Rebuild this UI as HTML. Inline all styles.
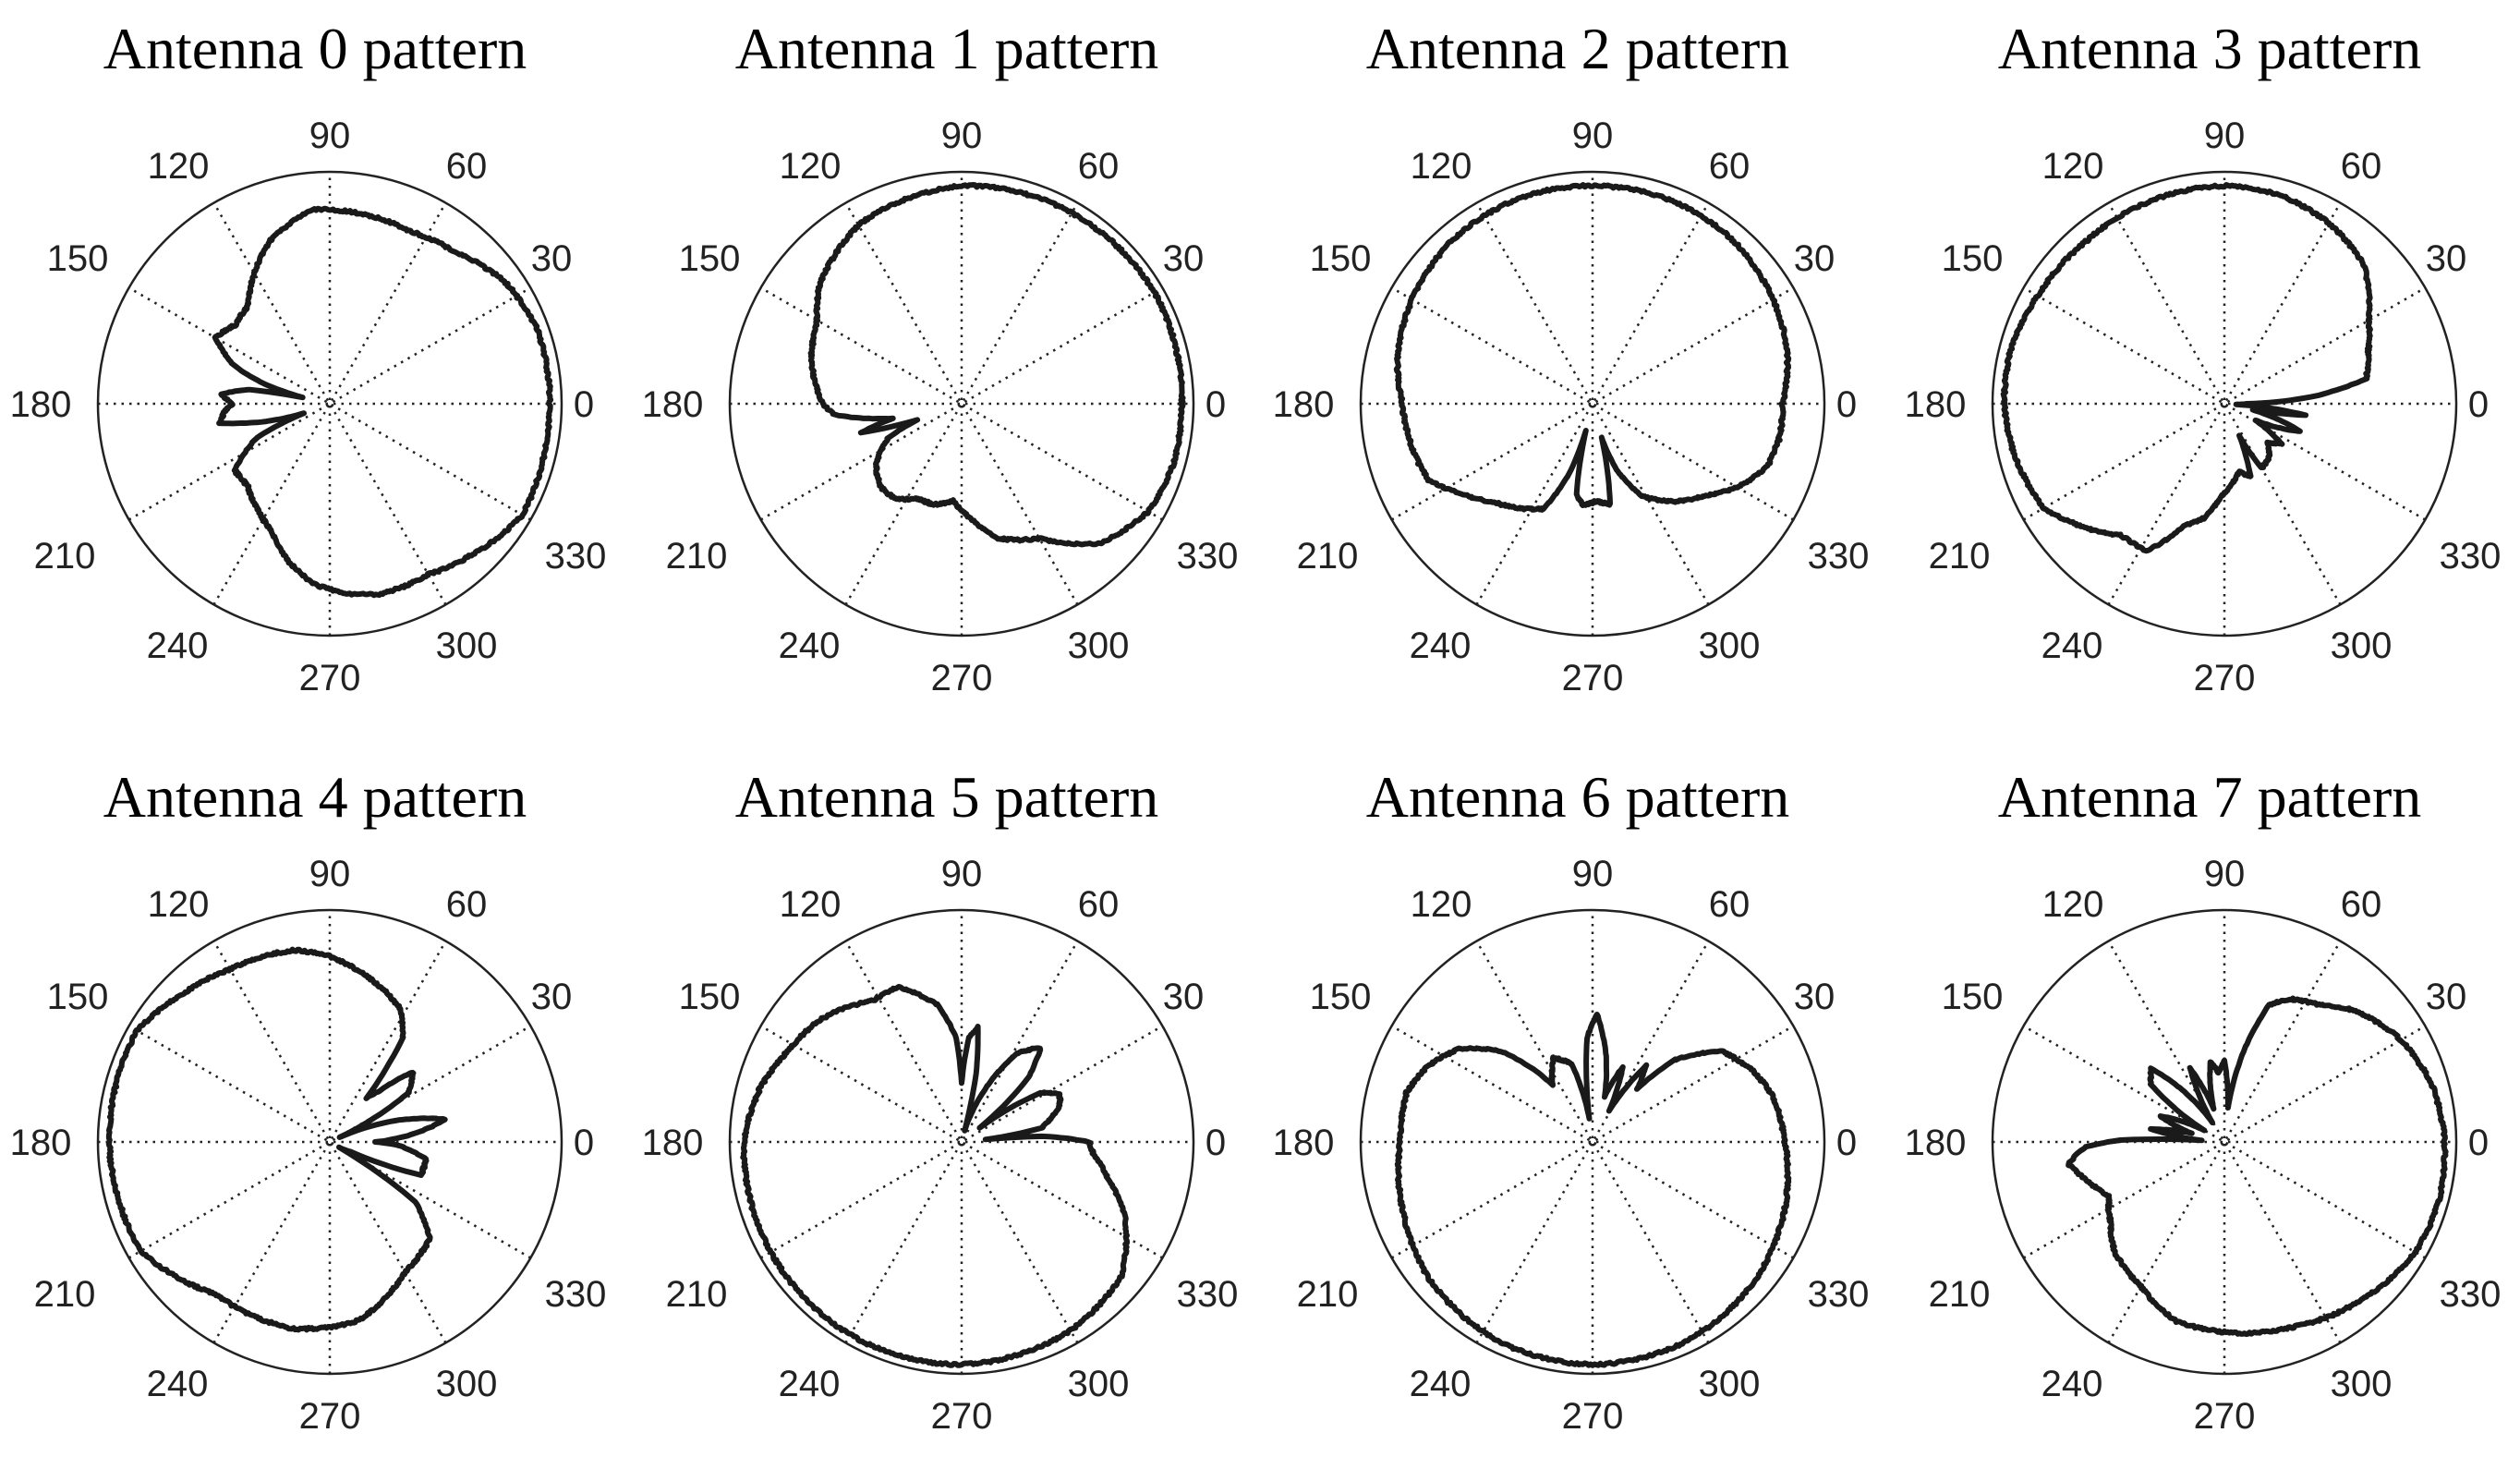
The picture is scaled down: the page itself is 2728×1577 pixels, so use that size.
<!DOCTYPE html>
<html><head><meta charset="utf-8"><style>
html,body{margin:0;padding:0;background:#fff;}
svg{display:block}
.t{font-family:"Liberation Serif",serif;font-size:64px;fill:#000}
.l{font-family:"Liberation Sans",sans-serif;font-size:40px;fill:#222}
</style></head><body>
<svg id="s" width="2728" height="1577" viewBox="0 0 2728 1577" xmlns="http://www.w3.org/2000/svg">
<text class="t" x="341" y="74" text-anchor="middle">Antenna 0 pattern</text>
<text class="t" x="1025" y="74" text-anchor="middle">Antenna 1 pattern</text>
<text class="t" x="1708" y="74" text-anchor="middle">Antenna 2 pattern</text>
<text class="t" x="2392" y="74" text-anchor="middle">Antenna 3 pattern</text>
<text class="t" x="341" y="884" text-anchor="middle">Antenna 4 pattern</text>
<text class="t" x="1025" y="884" text-anchor="middle">Antenna 5 pattern</text>
<text class="t" x="1708" y="884" text-anchor="middle">Antenna 6 pattern</text>
<text class="t" x="2392" y="884" text-anchor="middle">Antenna 7 pattern</text>
</svg>
<script>
(function(){
var s=document.getElementById('s'),NS='http://www.w3.org/2000/svg';
var R=251;
var cx=[357,1041,1724,2408],cy=[437,1236];
var labs=[[0,275,0],[30,240,-158],[60,148,-258],[90,0,-291],[120,-164,-258],[150,-273,-158],[180,-313,0],[210,-287,164],[240,-165,261],[270,0,296],[300,148,261],[330,266,164]];
var P=[
[[0,.95],[20,.95],[35,.92],[50,.85],[65,.82],[80,.83],[95,.84],[110,.75],[122,.63],[130,.55],[140,.53],[150,.57],[158,.45],[163,.3],[167,.12],[170,.35],[175,.47],[180,.42],[185,.46],[190,.48],[195,.3],[200,.12],[205,.35],[215,.5],[225,.5],[235,.55],[245,.6],[255,.7],[265,.78],[275,.82],[285,.85],[300,.85],[315,.9],[330,.96],[345,.95],[360,.95]],
[[0,.95],[30,.96],[60,.95],[90,.94],[120,.89],[140,.8],[150,.72],[165,.67],[180,.6],[185,.55],[192,.3],[196,.45],[200,.2],[205,.35],[215,.45],[225,.5],[235,.5],[245,.45],[255,.45],[265,.42],[275,.5],[285,.6],[300,.67],[315,.85],[330,.93],[345,.95],[360,.95]],
[[0,.82],[15,.87],[30,.9],[50,.93],[70,.94],[90,.94],[110,.94],[130,.93],[150,.9],[165,.87],[180,.82],[195,.8],[205,.78],[215,.68],[225,.6],[235,.55],[245,.5],[252,.3],[256,.12],[260,.4],[265,.44],[272,.42],[280,.44],[285,.15],[290,.3],[298,.45],[310,.55],[320,.62],[330,.72],[340,.8],[350,.82],[360,.82]],
[[0,.1],[5,.4],[10,.62],[20,.66],[30,.72],[45,.85],[60,.9],[75,.93],[90,.94],[110,.93],[130,.92],[150,.93],[165,.95],[180,.95],[195,.93],[210,.9],[222,.8],[232,.72],[242,.72],[252,.55],[260,.5],[268,.4],[275,.35],[282,.3],[290,.33],[295,.15],[300,.32],[310,.3],[318,.25],[325,.3],[332,.15],[340,.35],[348,.12],[352,.35],[357,.05],[360,.1]],
[[0,.2],[5,.35],[11,.51],[18,.3],[25,.05],[32,.4],[40,.47],[46,.3],[50,.25],[55,.55],[62,.65],[75,.72],[90,.8],[100,.84],[110,.85],[120,.86],[135,.9],[150,.96],[180,.95],[210,.94],[233,.82],[259,.82],[279,.78],[300,.65],[316,.6],[325,.45],[330,.05],[335,.1],[340,.42],[350,.42],[357,.3],[360,.2]],
[[0,.55],[4,.35],[6,.1],[10,.35],[20,.45],[26,.47],[32,.4],[38,.1],[44,.4],[50,.53],[58,.45],[70,.15],[75,.05],[78,.3],[82,.5],[86,.45],[90,.25],[93,.45],[100,.6],[112,.72],[122,.72],[130,.76],[140,.81],[151,.84],[165,.9],[180,.94],[210,.95],[240,.96],[270,.96],[300,.94],[320,.9],[335,.78],[346,.65],[355,.57],[360,.55]],
[[0,.83],[15,.8],[25,.75],[35,.68],[45,.5],[50,.3],[55,.4],[62,.15],[68,.35],[75,.2],[82,.4],[88,.55],[93,.45],[98,.1],[105,.35],[115,.4],[125,.3],[135,.55],[145,.7],[155,.78],[165,.83],[180,.83],[200,.87],[220,.92],[245,.95],[270,.96],[295,.95],[320,.92],[340,.88],[360,.83]],
[[0,.95],[15,.93],[30,.88],[45,.8],[55,.72],[65,.68],[72,.62],[78,.4],[84,.15],[90,.35],[95,.3],[100,.35],[108,.15],[115,.35],[122,.1],[135,.45],[142,.4],[150,.1],[158,.3],[165,.15],[170,.32],[176,.1],[179,.45],[182,.6],[188,.68],[195,.62],[205,.55],[215,.6],[225,.67],[240,.72],[255,.8],[270,.82],[290,.85],[310,.9],[330,.95],[345,.96],[360,.95]]
];
function el(n,a){var e=document.createElementNS(NS,n);for(var k in a)e.setAttribute(k,a[k]);s.appendChild(e);return e;}
for(var i=0;i<8;i++){
 var x=cx[i%4],y=cy[Math.floor(i/4)];
 for(var a=0;a<180;a+=30){var r=a*Math.PI/180;
  el('line',{x1:x-R*Math.cos(r),y1:y+R*Math.sin(r),x2:x+R*Math.cos(r),y2:y-R*Math.sin(r),stroke:'#222','stroke-width':2.5,'stroke-dasharray':'2.5 6'});}
 el('circle',{cx:x,cy:y,r:R,fill:'none',stroke:'#222','stroke-width':2.5});
 labs.forEach(function(L){var t=el('text',{'class':'l',x:x+L[1],y:y+L[2]+14,'text-anchor':'middle'});t.textContent=L[0];});
 var pts=P[i],d='';
 var seed=i*97+1;function rnd(){seed=(seed*16807)%2147483647;return seed/2147483647-.5;}
 for(var k=0;k<pts.length-1;k++){
  var a0=pts[k][0],a1=pts[k+1][0],r0=pts[k][1],r1=pts[k+1][1];
  var n=Math.max(1,Math.round((a1-a0)*2));
  for(var j=0;j<n;j++){var f=j/n,aa=(a0+(a1-a0)*f)*Math.PI/180,rr=(r0+(r1-r0)*f)*R+rnd()*2.5;
   d+=(d?'L':'M')+(x+rr*Math.cos(aa)).toFixed(1)+' '+(y-rr*Math.sin(aa)).toFixed(1);}
 }
 d+='Z';
 el('path',{d:d,fill:'none',stroke:'#1a1a1a','stroke-width':6,'stroke-linejoin':'round'});
}
})();
</script>
</body></html>
